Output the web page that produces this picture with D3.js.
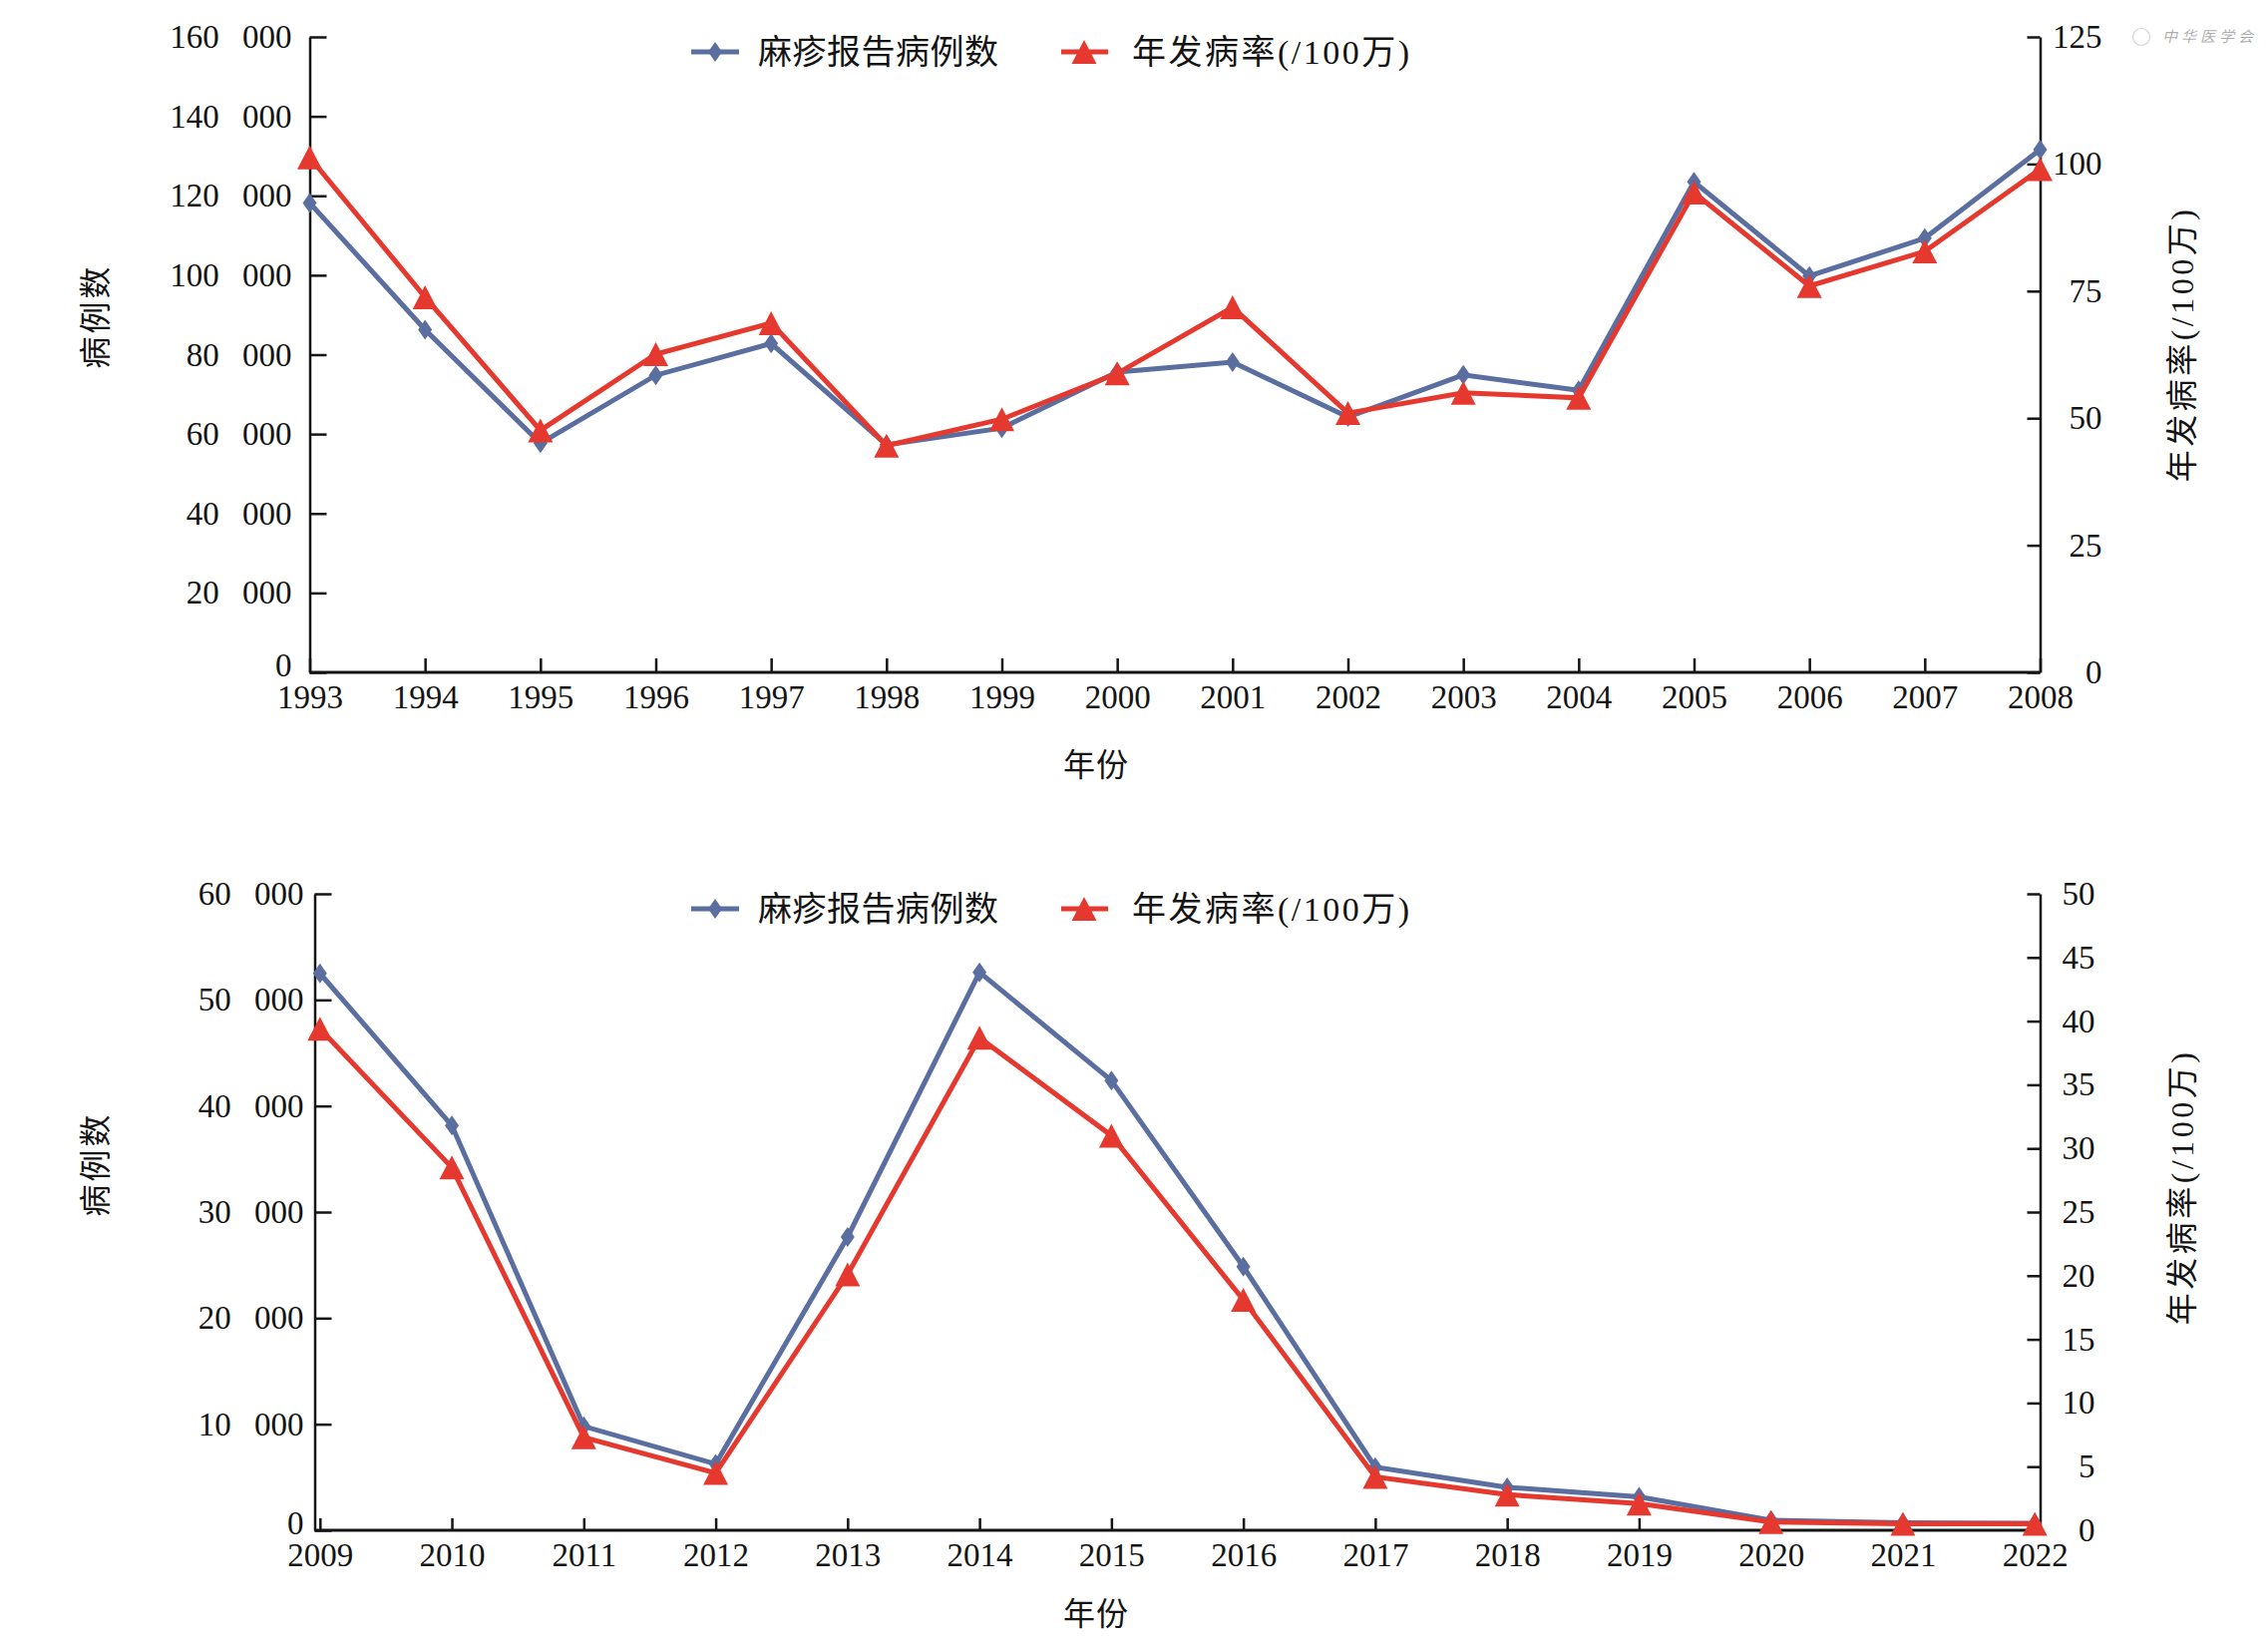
<!DOCTYPE html>
<html><head><meta charset="utf-8">
<script src="https://cdn.jsdelivr.net/npm/d3@7"></script>
<style>
body{margin:0;background:#fff;}
svg{display:block;}
text{font-family:"Liberation Serif","Noto Sans CJK SC",serif;fill:#141414;}
</style></head><body>
<svg id="chart" width="2274" height="1645"></svg>
<script>
// ---------- data ----------
const yearsTop = [1993,1994,1995,1996,1997,1998,1999,2000,2001,2002,2003,2004,2005,2006,2007,2008];
const casesTop = [118200,86300,57700,74800,82800,57300,61500,75600,78100,64300,74900,71000,123500,99800,109300,131600];
const rateTop  = [101.3,73.8,47.6,62.6,68.7,44.6,49.8,58.8,71.8,51.0,55.0,54.0,94.4,76.0,82.8,99.0];

const yearsBottom = [2009,2010,2011,2012,2013,2014,2015,2016,2017,2018,2019,2020,2021,2022];
const casesBottom = [52500,38150,9800,6250,27650,52600,42400,24850,5950,4050,3150,950,700,650];
const rateBottom  = [39.4,28.5,7.3,4.5,20.1,38.7,31.0,18.1,4.2,2.8,2.1,0.65,0.5,0.5];

const casesTicksTop = [0,20000,40000,60000,80000,100000,120000,140000,160000];
const rateTicksTop = [0,25,50,75,100,125];
const casesTicksBottom = [0,10000,20000,30000,40000,50000,60000];
const rateTicksBottom = [0,5,10,15,20,25,30,35,40,45,50];

const seriesNames = ["麻疹报告病例数","年发病率(/100万)"];
const leftTitle = "病例数";
const rightTitle = "年发病率(/100万)";
const xTitle = "年份";

// ---------- drawing ----------
const svg = d3.select("#chart");
const BLUE = "#5a6e9f", RED = "#e5392f", INK = "#141414";
const fmtCases = d => d === 0 ? "0" : d3.format(",")(d).replace(/,/g, " ");
const diamond = "M0,-10L7,0L0,10L-7,0Z";
const triangle = "M0,-12L12.5,12L-12.5,12Z";

function styleAxis(sel, domainW){
  sel.select(".domain").attr("stroke", INK).attr("stroke-width", domainW);
  sel.selectAll(".tick line").attr("stroke", INK).attr("stroke-width", 2.5);
  sel.selectAll(".tick text").attr("fill", INK).style("font-size","33px")
     .style("font-family","Liberation Serif").style("word-spacing","15px");
}

function panel(c){
  const g = svg.append("g");
  // left axis
  const gl = g.append("g").attr("transform",`translate(${c.left},0)`)
    .call(d3.axisLeft(c.yL).tickValues(c.lTicks).tickSizeInner(-17).tickSizeOuter(0)
      .tickPadding(c.lPad).tickFormat(fmtCases));
  styleAxis(gl, 2.5);
  gl.selectAll(".tick text").filter(d => d === 0).attr("dy","0.12em");
  // right axis
  const gr = g.append("g").attr("transform",`translate(${c.right},0)`)
    .call(d3.axisRight(c.yR).tickValues(c.rTicks).tickSizeInner(-13).tickSizeOuter(0)
      .tickFormat(d3.format("d")));
  styleAxis(gr, 2.5);
  gr.selectAll(".tick text").attr("text-anchor","end").attr("x", c.rLabelX);
  // bottom axis
  const gb = g.append("g").attr("transform",`translate(0,${c.bottom})`)
    .call(d3.axisBottom(c.x).tickValues(c.years).tickSizeInner(-c.xTick).tickSizeOuter(0)
      .tickPadding(13).tickFormat(d3.format("d")));
  styleAxis(gb, 3);
  gb.select(".domain").attr("d", `M${c.left},0H${c.right}`);

  // lines and markers
  const lineL = d3.line().x((d,i)=>c.x(c.years[i])).y(d=>c.yL(d));
  const lineR = d3.line().x((d,i)=>c.x(c.years[i])).y(d=>c.yR(d));
  g.append("path").datum(c.cases).attr("d", lineL).attr("fill","none")
    .attr("stroke", BLUE).attr("stroke-width", 5).attr("stroke-linejoin","miter");
  g.selectAll(".dm").data(c.cases).enter().append("path").attr("class","dm")
    .attr("d", diamond).attr("fill", BLUE)
    .attr("transform",(d,i)=>`translate(${c.x(c.years[i])},${c.yL(d)})`);
  g.append("path").datum(c.rate).attr("d", lineR).attr("fill","none")
    .attr("stroke", RED).attr("stroke-width", 5).attr("stroke-linejoin","miter");
  g.selectAll(".tr").data(c.rate).enter().append("path").attr("class","tr")
    .attr("d", triangle).attr("fill", RED)
    .attr("transform",(d,i)=>`translate(${c.x(c.years[i])},${c.yR(d)})`);

  // legend
  const ly = c.top + 15;
  g.append("line").attr("x1",693).attr("x2",741).attr("y1",ly).attr("y2",ly)
    .attr("stroke",BLUE).attr("stroke-width",5);
  g.append("path").attr("d",diamond).attr("fill",BLUE).attr("transform",`translate(717,${ly})`);
  g.append("text").attr("x",760).attr("y",ly).attr("dy","0.36em")
    .style("font-size","34px").style("letter-spacing","0.5px").text(seriesNames[0]);
  g.append("line").attr("x1",1064).attr("x2",1111).attr("y1",ly).attr("y2",ly)
    .attr("stroke",RED).attr("stroke-width",5);
  g.append("path").attr("d",triangle).attr("fill",RED).attr("transform",`translate(1087,${ly})`);
  g.append("text").attr("x",1135).attr("y",ly).attr("dy","0.36em")
    .style("font-size","34px").style("letter-spacing","2.5px").text(seriesNames[1]);

  // titles
  g.append("text").attr("transform",`translate(95,${c.lTitleY}) rotate(-90)`)
    .attr("text-anchor","middle").attr("dy","0.36em")
    .style("font-size","32px").style("letter-spacing","3px").text(leftTitle);
  g.append("text").attr("transform",`translate(2187,${c.rTitleY}) rotate(-90)`)
    .attr("text-anchor","middle").attr("dy","0.36em")
    .style("font-size","32px").style("letter-spacing","3.5px").text(rightTitle);
  g.append("text").attr("x",1099).attr("y",c.xTitleY).attr("text-anchor","middle").attr("dy","0.36em")
    .style("font-size","32px").style("letter-spacing","1px").text(xTitle);
}

// top panel
panel({
  years: yearsTop, cases: casesTop, rate: rateTop,
  x: d3.scaleLinear().domain([1993,2008]).range([310.5,2045.5]),
  yL: d3.scaleLinear().domain([0,160000]).range([674,37]),
  yR: d3.scaleLinear().domain([0,125]).range([674,37]),
  lTicks: casesTicksTop, rTicks: rateTicksTop,
  left: 310.5, right: 2045.5, top: 37, bottom: 674,
  lPad: 18, rLabelX: 62, xTick: 14,
  lTitleY: 317, rTitleY: 345, xTitleY: 766
});

// bottom panel
panel({
  years: yearsBottom, cases: casesBottom, rate: rateBottom,
  x: d3.scalePoint().domain(yearsBottom).range([315.5,2045.5]).padding(0.04),
  yL: d3.scaleLinear().domain([0,60000]).range([1534,896]),
  yR: d3.scaleLinear().domain([0,50]).range([1534,896]),
  lTicks: casesTicksBottom, rTicks: rateTicksBottom,
  left: 315.5, right: 2045.5, top: 896, bottom: 1534,
  lPad: 11, rLabelX: 55, xTick: 12,
  lTitleY: 1167, rTitleY: 1190, xTitleY: 1617
});

// faint publisher mark (top right)
const wm = svg.append("g").attr("opacity",0.35);
wm.append("circle").attr("cx",2147).attr("cy",37).attr("r",8.5).attr("fill","none")
  .attr("stroke","#888").attr("stroke-width",1.2);
wm.append("text").attr("x",2168).attr("y",37).attr("dy","0.36em")
  .style("font-size","15px").style("font-style","italic").style("letter-spacing","4px")
  .attr("fill","#777").text("中华医学会");
</script>
</body></html>
